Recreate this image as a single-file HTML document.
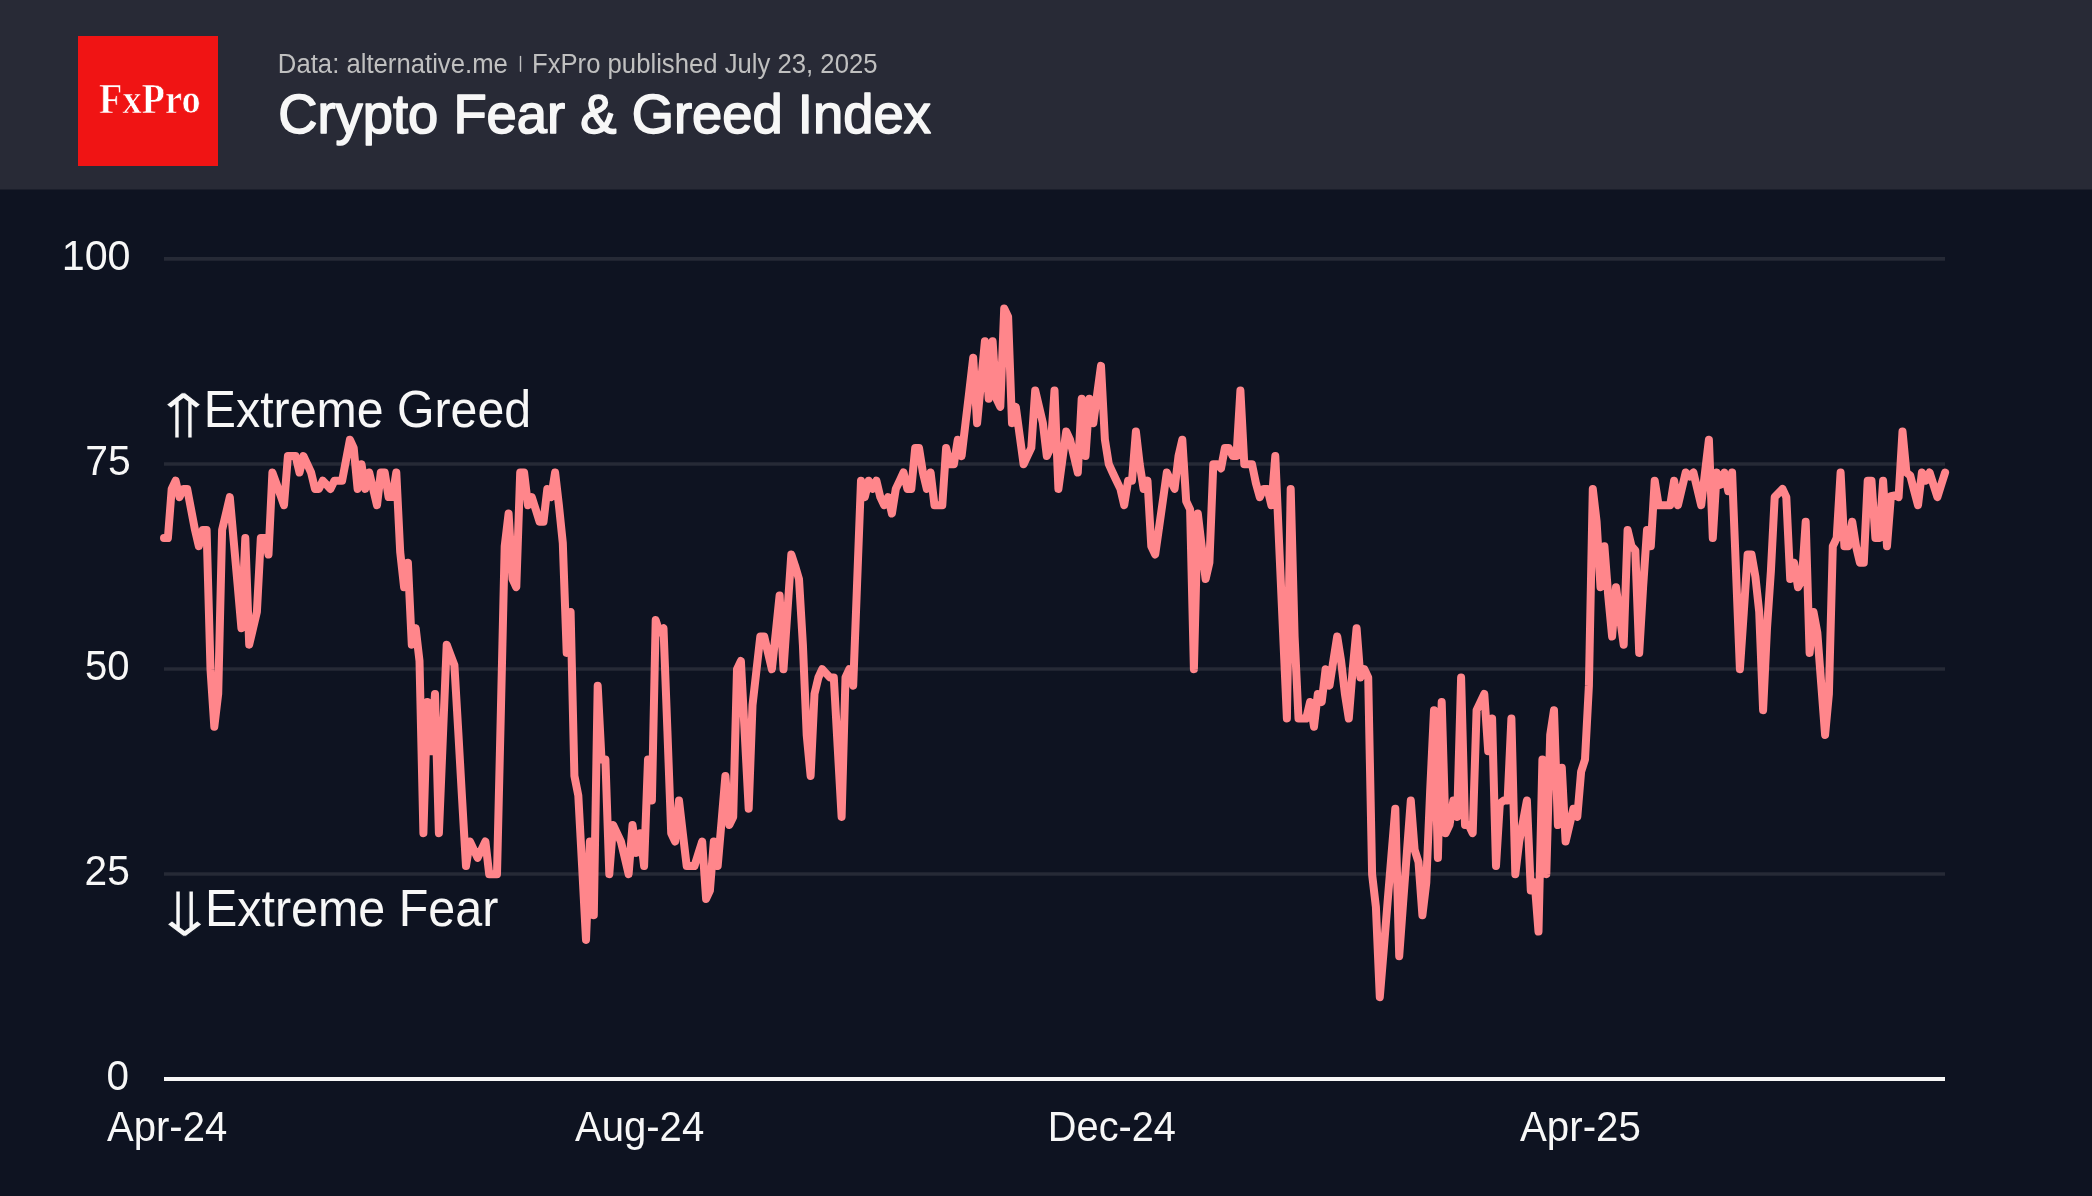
<!DOCTYPE html>
<html><head><meta charset="utf-8"><title>Crypto Fear &amp; Greed Index</title>
<style>
html,body{margin:0;padding:0;}
body{width:2092px;height:1196px;overflow:hidden;background:#0e1321;position:relative;}
svg{position:absolute;left:0;top:0;display:block;will-change:transform;}
</style></head>
<body>
<svg width="2092" height="1196" viewBox="0 0 2092 1196">
  <rect x="0" y="0" width="2092" height="1196" fill="#0e1321"/>
  <rect x="0" y="0" width="2092" height="189.5" fill="#282a36"/>
  <rect x="78" y="36" width="140" height="130" fill="#f01414"/>
  <text x="277.85" y="72.9" font-size="27.5" text-anchor="start" fill="#c0c0c0" font-weight="normal" font-family='"Liberation Sans", sans-serif' textLength="229.99" lengthAdjust="spacingAndGlyphs">Data: alternative.me</text>
  <rect x="519.8" y="55.8" width="1.4" height="16.2" rx="0.7" fill="#c0c0c0"/>
  <text x="531.95" y="72.9" font-size="27.5" text-anchor="start" fill="#c0c0c0" font-weight="normal" font-family='"Liberation Sans", sans-serif' textLength="345.55" lengthAdjust="spacingAndGlyphs">FxPro published July 23, 2025</text>
  <text x="278.19" y="132.6" font-size="55.6" text-anchor="start" fill="#f7f7f7" font-weight="normal" font-family='"Liberation Sans", sans-serif' textLength="652.64" lengthAdjust="spacingAndGlyphs" stroke="#f7f7f7" stroke-width="1.6" stroke-linejoin="round">Crypto Fear &amp; Greed Index</text>
  <text x="98.99" y="112.5" font-size="41.2" text-anchor="start" fill="#ffffff" font-weight="bold" font-family='"Liberation Serif", serif' textLength="101.62" lengthAdjust="spacingAndGlyphs" stroke="#f01414" stroke-width="0.7" stroke-linejoin="miter">FxPro</text>
  <text x="61.69" y="270.29999999999995" font-size="42.6" text-anchor="start" fill="#f7f7f7" font-weight="normal" font-family='"Liberation Sans", sans-serif' textLength="68.85" lengthAdjust="spacingAndGlyphs">100</text>
  <text x="85.28" y="475.4" font-size="42.6" text-anchor="start" fill="#f7f7f7" font-weight="normal" font-family='"Liberation Sans", sans-serif' textLength="45.56" lengthAdjust="spacingAndGlyphs">75</text>
  <text x="84.92" y="680.4" font-size="42.6" text-anchor="start" fill="#f7f7f7" font-weight="normal" font-family='"Liberation Sans", sans-serif' textLength="44.59" lengthAdjust="spacingAndGlyphs">50</text>
  <text x="84.59" y="885.4" font-size="42.6" text-anchor="start" fill="#f7f7f7" font-weight="normal" font-family='"Liberation Sans", sans-serif' textLength="45.24" lengthAdjust="spacingAndGlyphs">25</text>
  <text x="106.5" y="1090.4" font-size="42.6" text-anchor="start" fill="#f7f7f7" font-weight="normal" font-family='"Liberation Sans", sans-serif' textLength="22.51" lengthAdjust="spacingAndGlyphs">0</text>
  <text x="107.0" y="1141.3" font-size="43.2" text-anchor="start" fill="#f7f7f7" font-weight="normal" font-family='"Liberation Sans", sans-serif' textLength="120.3" lengthAdjust="spacingAndGlyphs">Apr-24</text>
  <text x="574.9" y="1141.3" font-size="43.2" text-anchor="start" fill="#f7f7f7" font-weight="normal" font-family='"Liberation Sans", sans-serif' textLength="129.32" lengthAdjust="spacingAndGlyphs">Aug-24</text>
  <text x="1047.82" y="1141.3" font-size="43.2" text-anchor="start" fill="#f7f7f7" font-weight="normal" font-family='"Liberation Sans", sans-serif' textLength="128.16" lengthAdjust="spacingAndGlyphs">Dec-24</text>
  <text x="1520.0" y="1141.3" font-size="43.2" text-anchor="start" fill="#f7f7f7" font-weight="normal" font-family='"Liberation Sans", sans-serif' textLength="120.84" lengthAdjust="spacingAndGlyphs">Apr-25</text>
  <text x="149.67" y="437.7" font-size="61.8" text-anchor="start" fill="#f7f7f7" font-weight="normal" font-family='"DejaVu Sans", sans-serif' textLength="67.44" lengthAdjust="spacingAndGlyphs" stroke="#0e1321" stroke-width="1">&#8657;</text>
  <text x="203.86" y="426.9" font-size="51.7" text-anchor="start" fill="#f7f7f7" font-weight="normal" font-family='"Liberation Sans", sans-serif' textLength="327.28" lengthAdjust="spacingAndGlyphs">Extreme Greed</text>
  <text x="150.46" y="935.9" font-size="61.8" text-anchor="start" fill="#f7f7f7" font-weight="normal" font-family='"DejaVu Sans", sans-serif' textLength="68.26" lengthAdjust="spacingAndGlyphs" stroke="#0e1321" stroke-width="1">&#8659;</text>
  <text x="204.95" y="925.6" font-size="51.7" text-anchor="start" fill="#f7f7f7" font-weight="normal" font-family='"Liberation Sans", sans-serif' textLength="293.36" lengthAdjust="spacingAndGlyphs">Extreme Fear</text>
  <g stroke="#262a36" stroke-width="3.6">
    <line x1="164" y1="258.9" x2="1945" y2="258.9"/>
    <line x1="164" y1="464" x2="1945" y2="464"/>
    <line x1="164" y1="669" x2="1945" y2="669"/>
    <line x1="164" y1="874" x2="1945" y2="874"/>
  </g>
  <line x1="164" y1="1079" x2="1945" y2="1079" stroke="#f7f7f7" stroke-width="4"/>
  <polyline fill="none" stroke="#ff868b" stroke-width="8" stroke-linejoin="round" stroke-linecap="round" points="164.0,538.1 167.9,538.1 171.7,488.9 175.6,480.7 179.5,497.1 183.4,488.9 187.2,488.9 191.1,509.4 195.0,529.9 198.8,546.2 202.7,529.9 206.6,529.9 210.5,669.2 214.3,726.7 218.2,693.9 222.1,529.9 226.0,513.5 229.8,497.1 233.7,540.8 237.6,584.5 241.4,628.2 245.3,538.1 249.2,644.7 253.1,628.2 256.9,611.9 260.8,538.1 264.7,538.1 268.5,554.5 272.4,472.5 276.3,483.4 280.2,494.3 284.0,505.2 287.9,456.1 291.8,456.1 295.6,456.1 299.5,472.5 303.4,456.1 307.3,464.2 311.1,472.5 315.0,488.9 318.9,488.9 322.8,480.7 326.6,484.8 330.5,488.9 334.4,480.7 338.2,480.7 342.1,480.7 346.0,460.2 349.9,439.7 353.7,447.9 357.6,488.9 361.5,464.2 365.3,488.9 369.2,472.5 373.1,488.9 377.0,505.2 380.8,472.5 384.7,472.5 388.6,497.1 392.4,497.1 396.3,472.5 400.2,552.0 404.1,587.2 407.9,562.7 411.8,644.7 415.7,628.2 419.5,661.0 423.4,833.2 427.3,702.0 431.2,751.2 435.0,693.9 438.9,833.2 442.8,739.0 446.7,644.7 450.5,654.9 454.4,665.2 458.3,732.1 462.1,799.1 466.0,866.0 469.9,841.5 473.8,849.7 477.6,857.9 481.5,849.7 485.4,841.5 489.2,874.2 493.1,874.2 497.0,874.2 500.9,710.2 504.7,546.2 508.6,513.5 512.5,579.1 516.3,587.2 520.2,472.5 524.1,472.5 528.0,505.2 531.8,497.1 535.7,509.4 539.6,521.7 543.5,521.7 547.3,488.9 551.2,497.1 555.1,472.5 558.9,505.2 562.8,543.0 566.7,652.9 570.6,611.9 574.4,775.9 578.3,795.5 582.2,867.7 586.0,939.9 589.9,841.5 593.8,915.2 597.7,685.7 601.5,759.5 605.4,759.5 609.3,874.2 613.1,825.0 617.0,833.2 620.9,841.5 624.8,857.9 628.6,874.2 632.5,825.0 636.4,852.9 640.3,833.2 644.1,866.0 648.0,759.5 651.9,800.5 655.7,620.1 659.6,632.4 663.5,628.2 667.4,730.8 671.2,833.2 675.1,841.5 679.0,800.5 682.8,833.2 686.7,866.0 690.6,866.0 694.5,866.0 698.3,853.8 702.2,841.5 706.1,898.9 709.9,890.6 713.8,841.5 717.7,866.0 721.6,821.0 725.4,775.9 729.3,825.0 733.2,816.9 737.0,669.2 740.9,661.0 744.8,734.9 748.7,808.7 752.5,705.3 756.4,670.9 760.3,636.5 764.2,636.5 768.0,652.9 771.9,669.2 775.8,632.4 779.6,595.5 783.5,669.2 787.4,611.9 791.3,554.5 795.1,565.9 799.0,579.1 802.9,644.7 806.7,734.9 810.6,775.9 814.5,693.9 818.4,677.5 822.2,669.2 826.1,673.4 830.0,677.5 833.8,677.5 837.7,747.2 841.6,816.9 845.5,677.5 849.3,669.2 853.2,685.7 857.1,583.2 861.0,480.7 864.8,497.1 868.7,480.7 872.6,488.9 876.4,480.7 880.3,497.1 884.2,505.2 888.1,497.1 891.9,513.5 895.8,488.9 899.7,480.7 903.5,472.5 907.4,488.9 911.3,488.9 915.2,447.9 919.0,447.9 922.9,472.5 926.8,488.9 930.6,472.5 934.5,505.2 938.4,505.2 942.3,505.2 946.1,447.9 950.0,464.2 953.9,464.2 957.8,439.7 961.6,456.1 965.5,423.2 969.4,390.5 973.2,357.7 977.1,423.2 981.0,382.3 984.9,341.3 988.7,398.7 992.6,341.3 996.5,398.7 1000.3,406.9 1004.2,308.5 1008.1,316.7 1012.0,423.2 1015.8,406.9 1019.7,435.6 1023.6,464.2 1027.4,456.1 1031.3,447.9 1035.2,390.5 1039.1,406.9 1042.9,423.2 1046.8,456.1 1050.7,447.9 1054.5,390.5 1058.4,488.9 1062.3,460.2 1066.2,431.5 1070.0,439.7 1073.9,456.1 1077.8,472.5 1081.7,398.7 1085.5,456.1 1089.4,398.7 1093.3,423.2 1097.1,394.6 1101.0,365.9 1104.9,439.7 1108.8,464.2 1112.6,472.5 1116.5,480.7 1120.4,488.9 1124.2,505.2 1128.1,480.7 1132.0,480.7 1135.9,431.5 1139.7,464.2 1143.6,488.9 1147.5,480.7 1151.3,546.2 1155.2,554.5 1159.1,527.1 1163.0,499.8 1166.8,472.5 1170.7,480.7 1174.6,488.9 1178.5,456.1 1182.3,439.7 1186.2,501.2 1190.1,509.4 1193.9,669.2 1197.8,513.5 1201.7,546.2 1205.6,579.1 1209.4,562.7 1213.3,464.2 1217.2,464.2 1221.0,468.4 1224.9,447.9 1228.8,447.9 1232.7,456.1 1236.5,456.1 1240.4,390.5 1244.3,464.2 1248.1,464.2 1252.0,464.2 1255.9,483.1 1259.8,497.1 1263.6,488.9 1267.5,488.9 1271.4,505.2 1275.3,456.1 1279.1,543.5 1283.0,631.0 1286.9,718.5 1290.7,488.9 1294.6,636.5 1298.5,718.5 1302.4,718.5 1306.2,718.5 1310.1,702.0 1314.0,726.7 1317.8,693.9 1321.7,702.0 1325.6,669.2 1329.5,685.7 1333.3,661.0 1337.2,636.5 1341.1,661.0 1344.9,693.9 1348.8,718.5 1352.7,669.2 1356.6,628.2 1360.4,677.5 1364.3,669.2 1368.2,677.5 1372.1,874.2 1375.9,907.0 1379.8,997.2 1383.7,950.1 1387.5,903.0 1391.4,855.8 1395.3,808.7 1399.2,956.2 1403.0,904.3 1406.9,852.4 1410.8,800.5 1414.6,849.7 1418.5,862.0 1422.4,915.2 1426.3,882.5 1430.1,792.2 1434.0,710.2 1437.9,857.9 1441.7,702.0 1445.6,833.2 1449.5,825.0 1453.4,800.5 1457.2,816.9 1461.1,677.5 1465.0,825.0 1468.8,825.0 1472.7,833.2 1476.6,710.2 1480.5,702.0 1484.3,693.9 1488.2,751.2 1492.1,718.5 1496.0,866.0 1499.8,803.7 1503.7,800.5 1507.6,800.5 1511.4,718.5 1515.3,874.2 1519.2,841.5 1523.1,821.0 1526.9,800.5 1530.8,890.6 1534.7,882.5 1538.5,931.6 1542.4,759.5 1546.3,874.2 1550.2,734.9 1554.0,710.2 1557.9,825.0 1561.8,767.7 1565.6,841.5 1569.5,825.0 1573.4,808.7 1577.3,816.9 1581.1,771.8 1585.0,759.5 1588.9,685.7 1592.8,488.9 1596.6,521.7 1600.5,587.2 1604.4,546.2 1608.2,595.5 1612.1,636.5 1616.0,587.2 1619.9,616.8 1623.7,644.7 1627.6,529.9 1631.5,546.2 1635.3,550.4 1639.2,652.9 1643.1,587.2 1647.0,529.9 1650.8,546.2 1654.7,480.7 1658.6,505.2 1662.4,505.2 1666.3,505.2 1670.2,505.2 1674.1,480.7 1677.9,505.2 1681.8,488.9 1685.7,472.5 1689.6,476.6 1693.4,472.5 1697.3,488.9 1701.2,505.2 1705.0,472.5 1708.9,439.7 1712.8,538.1 1716.7,472.5 1720.5,484.8 1724.4,472.5 1728.3,491.3 1732.1,472.5 1736.0,570.9 1739.9,669.2 1743.8,611.9 1747.6,554.5 1751.5,554.5 1755.4,576.6 1759.2,611.9 1763.1,710.2 1767.0,628.2 1770.9,570.9 1774.7,497.1 1778.6,493.0 1782.5,488.9 1786.3,497.1 1790.2,579.1 1794.1,562.7 1798.0,587.2 1801.8,580.7 1805.7,521.7 1809.6,652.9 1813.5,611.9 1817.3,632.4 1821.2,683.6 1825.1,734.9 1828.9,693.9 1832.8,546.2 1836.7,538.1 1840.6,472.5 1844.4,546.2 1848.3,546.2 1852.2,521.7 1856.0,546.2 1859.9,562.7 1863.8,562.7 1867.7,480.7 1871.5,480.7 1875.4,538.1 1879.3,538.1 1883.1,480.7 1887.0,546.2 1890.9,496.2 1894.8,495.4 1898.6,497.1 1902.5,431.5 1906.4,472.5 1910.3,475.7 1914.1,490.5 1918.0,505.2 1921.9,472.5 1925.7,480.7 1929.6,472.5 1933.5,484.8 1937.4,497.1 1941.2,484.8 1945.1,472.5"/>
</svg>
</body></html>
